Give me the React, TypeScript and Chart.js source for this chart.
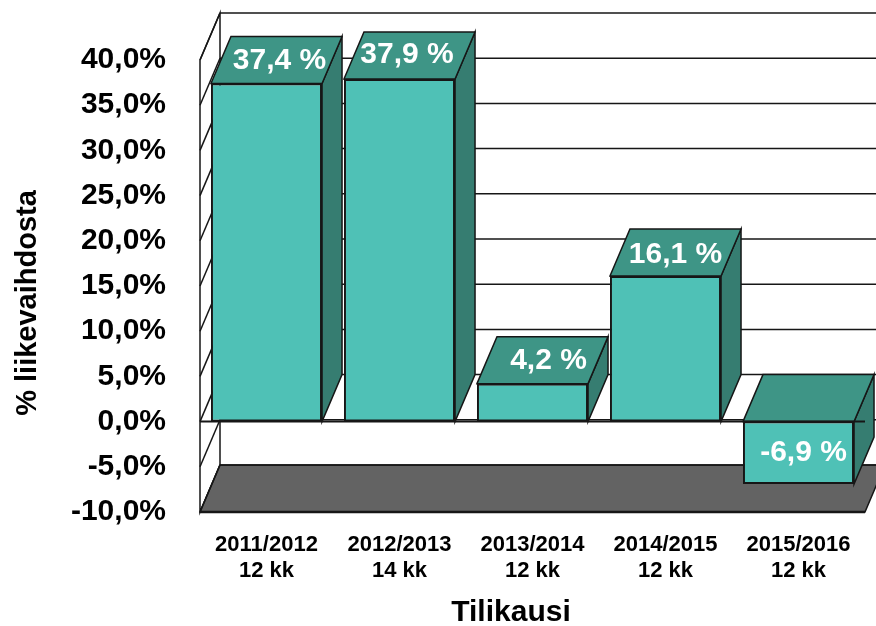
import React, { useEffect, useRef } from "react";
import { Chart, registerables } from "chart.js";

Chart.register(...registerables);

const categories: string[][] = [
  ["2011/2012", "12 kk"],
  ["2012/2013", "14 kk"],
  ["2013/2014", "12 kk"],
  ["2014/2015", "12 kk"],
  ["2015/2016", "12 kk"],
];
const marginValues = [37.4, 37.9, 4.2, 16.1, -6.9];
const valueLabels = ["37,4 %", "37,9 %", "4,2 %", "16,1 %", "-6,9 %"];
const xTitle = "Tilikausi";
const yTitle = "% liikevaihdosta";

const DX = 20;
const DY = 47;
const FONT = '"Liberation Sans", Arial, sans-serif';
const INK = "#161616";
const FRONT = "#4FC1B6";
const TOP = "#3E9586";
const SIDE = "#367D71";
const FLOOR = "#636363";

function poly(ctx: CanvasRenderingContext2D, pts: number[][], fill: string | null, stroke: string, lw: number) {
  ctx.beginPath();
  pts.forEach(([x, y], i) => (i ? ctx.lineTo(x, y) : ctx.moveTo(x, y)));
  ctx.closePath();
  if (fill) {
    ctx.fillStyle = fill;
    ctx.fill();
  }
  ctx.strokeStyle = stroke;
  ctx.lineWidth = lw;
  ctx.lineJoin = "miter";
  ctx.stroke();
}

function seg(ctx: CanvasRenderingContext2D, x1: number, y1: number, x2: number, y2: number, lw: number) {
  ctx.beginPath();
  ctx.moveTo(x1, y1);
  ctx.lineTo(x2, y2);
  ctx.strokeStyle = INK;
  ctx.lineWidth = lw;
  ctx.stroke();
}

const box3d = {
  id: "box3d",
  beforeDatasetsDraw(chart: any) {
    const { ctx, chartArea: a, scales } = chart;
    const y = scales.y;
    const top = y.getPixelForValue(40);
    const bottom = y.getPixelForValue(-10);
    ctx.save();
    // left wall and floor
    poly(ctx, [[a.left, top], [a.left + DX, top - DY], [a.left + DX, bottom - DY], [a.left, bottom]], "#ffffff", INK, 1.5);
    poly(ctx, [[a.left, bottom], [a.left + DX, bottom - DY], [a.right + DX, bottom - DY], [a.right, bottom]], FLOOR, INK, 1.5);
    // grid lines on the back wall, continued down the left wall
    y.ticks.forEach((t: any) => {
      const p = y.getPixelForValue(t.value);
      seg(ctx, a.left, p, a.left + DX, p - DY, 1.5);
      seg(ctx, a.left + DX, p - DY, a.right + DX, p - DY, 1.5);
    });
    // top and side faces of each bar
    const base = y.getPixelForValue(0);
    chart.getDatasetMeta(0).data.forEach((bar: any, i: number) => {
      const half = bar.width / 2;
      const l = bar.x - half;
      const r = bar.x + half;
      const up = marginValues[i] >= 0 ? bar.y : base;
      const down = marginValues[i] >= 0 ? base : bar.y;
      poly(ctx, [[r, up], [r + DX, up - DY], [r + DX, down - DY], [r, down]], SIDE, INK, 1.5);
      poly(ctx, [[l, up], [l + DX, up - DY], [r + DX, up - DY], [r, up]], TOP, INK, 1.5);
    });
    ctx.restore();
  },
  afterDatasetsDraw(chart: any) {
    const { ctx, chartArea: a, scales } = chart;
    const y = scales.y;
    const base = y.getPixelForValue(0);
    ctx.save();
    seg(ctx, a.left, base, a.right, base, 2);
    seg(ctx, a.left, a.bottom, a.right, a.bottom, 2.5);
    // value labels
    const nudgeX = [3, -2.5, 6, 0, 0];
    const nudgeY = [1, -1, 1, 2, 0];
    ctx.fillStyle = "#ffffff";
    ctx.font = `bold 30px ${FONT}`;
    ctx.textAlign = "center";
    ctx.textBaseline = "middle";
    chart.getDatasetMeta(0).data.forEach((bar: any, i: number) => {
      const pos = marginValues[i] >= 0;
      const tx = bar.x + (pos ? DX / 2 : 5) + nudgeX[i];
      const ty = (pos ? bar.y - DY / 2 : (base + bar.y) / 2) + nudgeY[i];
      ctx.fillText(valueLabels[i], tx, ty);
    });
    // axis titles
    ctx.fillStyle = "#000000";
    ctx.font = `bold 30px ${FONT}`;
    ctx.fillText(xTitle, 511, 613);
    ctx.translate(28, 303);
    ctx.rotate(-Math.PI / 2);
    ctx.font = `bold 29px ${FONT}`;
    ctx.fillText(yTitle, 0, 0);
    ctx.restore();
  },
};

export default function App() {
  const ref = useRef<HTMLCanvasElement>(null);
  useEffect(() => {
    const chart = new Chart(ref.current!, {
      type: "bar",
      data: {
        labels: categories,
        datasets: [
          {
            data: marginValues,
            backgroundColor: FRONT,
            borderColor: INK,
            borderWidth: 2,
            borderSkipped: false,
            barPercentage: 0.835,
            categoryPercentage: 1,
          },
        ],
      },
      options: {
        animation: false,
        responsive: false,
        layout: { padding: { top: 60, right: 11, left: 0, bottom: 0 } },
        plugins: { legend: { display: false }, tooltip: { enabled: false } },
        scales: {
          x: {
            grid: { display: false },
            border: { display: false },
            afterFit: (s: any) => {
              s.height = 114;
            },
            ticks: {
              autoSkip: false,
              maxRotation: 0,
              padding: 12,
              color: "#000000",
              font: { family: FONT, size: 22, weight: "bold", lineHeight: 1.18 },
            },
          },
          y: {
            min: -10,
            max: 40,
            grid: { display: false },
            border: { display: false },
            afterFit: (s: any) => {
              s.width = 200;
            },
            ticks: {
              stepSize: 5,
              padding: 26,
              color: "#000000",
              font: { family: FONT, size: 30, weight: "bold" },
              callback: (v: any) => Number(v).toFixed(1).replace(".", ",") + "%",
            },
          },
        },
      },
      plugins: [box3d],
    } as any);
    return () => chart.destroy();
  }, []);
  return (
    <canvas
      ref={ref}
      width={876}
      height={626}
      style={{ position: "absolute", left: 0, top: 0, display: "block", background: "#ffffff" }}
    />
  );
}
